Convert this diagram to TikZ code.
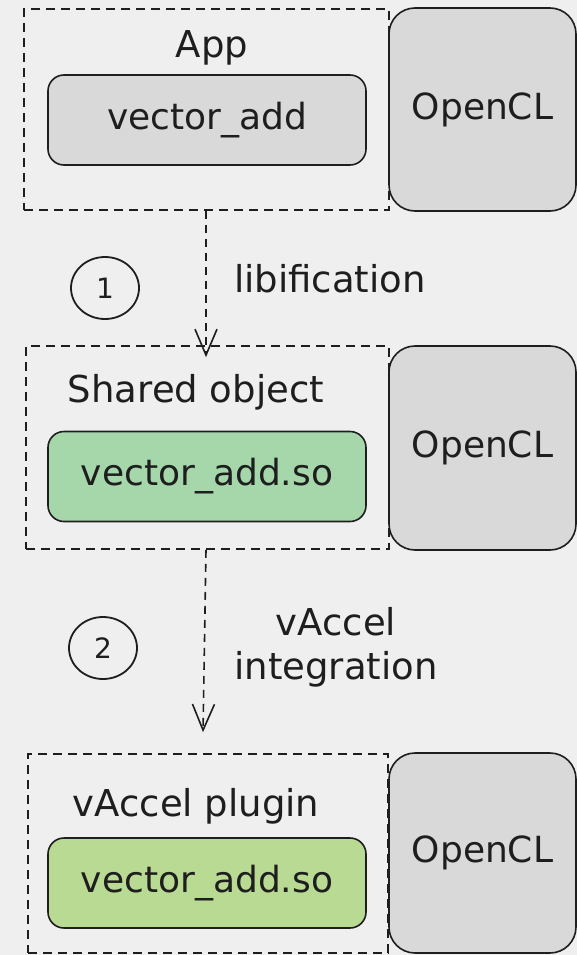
\documentclass[tikz,border=0pt]{standalone}
\usepackage{fontspec}
\setmainfont{DejaVu Sans}
\usetikzlibrary{arrows.meta,shapes.geometric}
\definecolor{bg}{HTML}{EFEFEF}
\definecolor{greyfill}{HTML}{D9D9D9}
\definecolor{greenA}{HTML}{A6D7AB}
\definecolor{greenB}{HTML}{B9DA92}
\definecolor{ink}{HTML}{1E1E1E}
\tikzset{
  grpbox/.style={draw=ink, line width=1.6pt, dash pattern=on 9pt off 6pt, minimum width=#1, inner sep=0pt},
  innerbox/.style={draw=ink, line width=1.6pt, rounded corners=16pt, minimum width=318pt, minimum height=90pt, inner sep=0pt, text=ink, font=\fontsize{36}{42}\selectfont},
  oclbox/.style={draw=ink, line width=1.6pt, rounded corners=26pt, fill=greyfill, minimum width=187pt, inner sep=0pt, text=ink, font=\fontsize{36}{42}\selectfont},
  lbl/.style={text=ink, inner sep=0pt, font=\fontsize{37}{44}\selectfont},
  steplbl/.style={draw=ink, line width=1.8pt, ellipse, minimum width=68pt, minimum height=62pt, inner sep=0pt, text=ink, font=\fontsize{28}{32}\selectfont},
  flow/.style={draw=ink, line width=1.6pt, dash pattern=on 8pt off 6pt, -{Straight Barb[length=26pt,width=22pt,line width=1.6pt]}}
}
\begin{document}
\begin{tikzpicture}[x=1pt,y=-1pt]
\fill[bg] (0,0) rectangle (577,955);
\useasboundingbox (0,0) rectangle (577,955);

% group 1
\node[grpbox=365pt, minimum height=201pt] (g1) at (206.5,109.5) {};
\node[oclbox, minimum height=203pt] (o1) at (482.5,109.5) {OpenCL};
\node[innerbox, fill=greyfill] (v1) at (207,120) {vector\_add};
\node[lbl] (t1) at (212,48) {App};

% group 2
\node[grpbox=363pt, minimum height=203pt] (g2) at (207.5,447.5) {};
\node[oclbox, minimum height=204pt] (o2) at (482.5,448) {OpenCL};
\node[innerbox, fill=greenA] (v2) at (207,476.5) {vector\_add.so};
\node[lbl] (t2) at (196,392) {Shared object};

% group 3
\node[grpbox=360pt, minimum height=199pt] (g3) at (208,853.5) {};
\node[oclbox, minimum height=200pt] (o3) at (482.5,853) {OpenCL};
\node[innerbox, fill=greenB] (v3) at (207,883) {vector\_add.so};
\node[lbl] (t3) at (196,806) {vAccel plugin};

% steps
\draw[flow] ([xshift=-0.5pt]g1.south) -- ([xshift=-1.5pt,yshift=-12pt]g2.north);
\draw[flow] ([xshift=-1.5pt]g2.south) -- ([xshift=-5pt,yshift=21pt]g3.north);

\node[steplbl] (s1) at (105,288) {1};
\node[lbl] (l1) at (330,279) {libification};
\node[steplbl] (s2) at (103,648) {2};
\node[lbl, align=center] (l2) at (336,647) {vAccel\\integration};
\end{tikzpicture}
\end{document}
